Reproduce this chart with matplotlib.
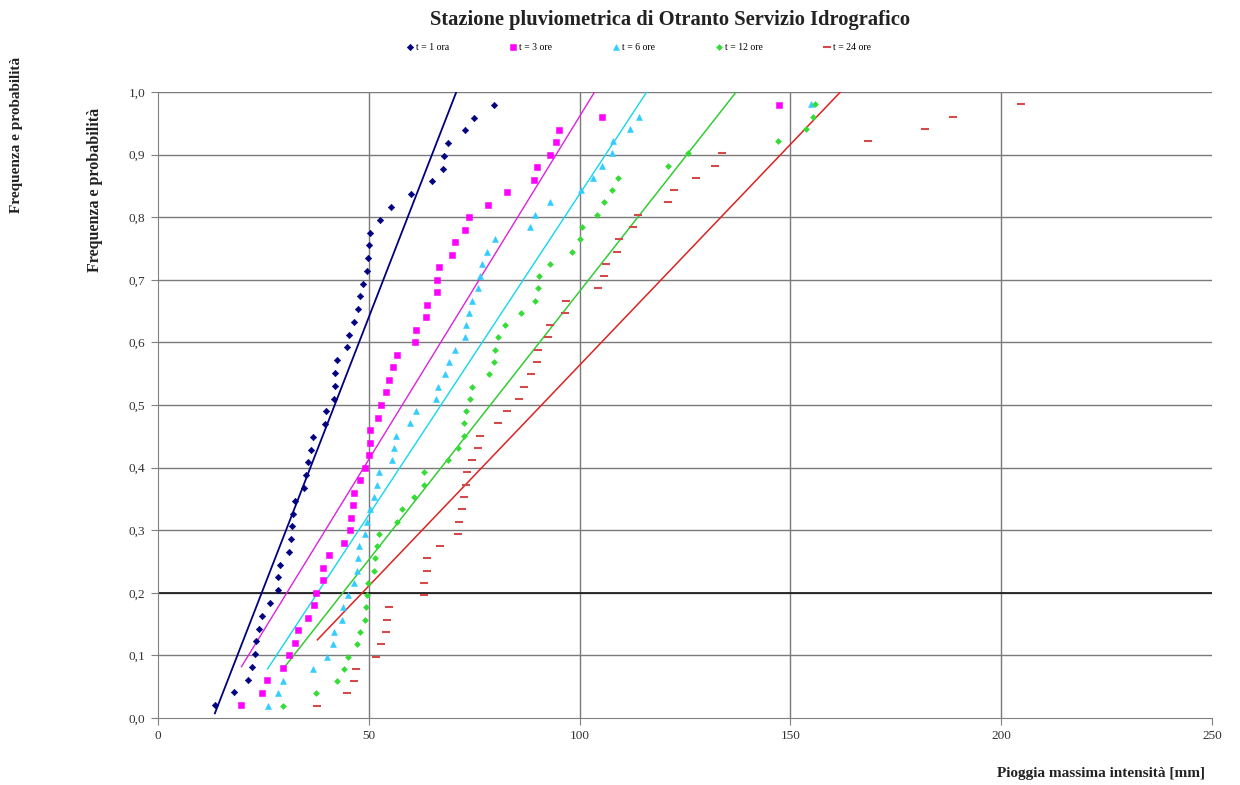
import numpy as np
import matplotlib
matplotlib.use("Agg")
import matplotlib.pyplot as plt
from matplotlib.ticker import MultipleLocator, FuncFormatter

plt.rcParams['font.family'] = ['Liberation Serif', 'DejaVu Serif']

# piogge massime annuali ordinate [mm], per durata
h_1ora = [13.5, 18.1, 21.4, 22.2, 22.9, 23.2, 24.0, 24.6, 26.5, 28.4, 28.5, 29.0,
          31.1, 31.5, 31.8, 32.1, 32.4, 34.6, 35.0, 35.6, 36.4, 36.8, 39.5, 39.8,
          41.8, 42.0, 42.1, 42.4, 44.8, 45.3, 46.5, 47.4, 48.0, 48.6, 49.6, 49.9,
          50.0, 50.2, 52.7, 55.3, 59.9, 64.9, 67.7, 67.8, 68.7, 72.8, 75.0, 79.8]
h_3ore = [19.8, 24.6, 25.8, 29.6, 31.1, 32.5, 33.3, 35.5, 37.1, 37.5, 39.1, 39.2,
          40.6, 44.1, 45.5, 45.9, 46.3, 46.6, 47.9, 49.1, 50.0, 50.3, 50.3, 52.3,
          53.0, 54.2, 54.9, 55.7, 56.6, 61.0, 61.1, 63.6, 63.9, 66.1, 66.3, 66.6,
          69.8, 70.4, 72.8, 73.8, 78.2, 82.8, 89.2, 90.0, 93.0, 94.3, 95.2, 105.4,
          147.3]
h_6ore = [26.0, 28.5, 29.6, 36.8, 40.0, 41.6, 41.8, 43.6, 44.0, 45.0, 46.6, 47.3,
          47.4, 47.7, 49.1, 49.5, 50.2, 51.2, 52.0, 52.4, 55.6, 56.1, 56.5, 59.8,
          61.2, 65.9, 66.5, 68.0, 69.1, 70.4, 72.8, 73.0, 73.8, 74.6, 75.8, 76.4,
          76.8, 78.0, 79.9, 88.2, 89.4, 93.1, 100.3, 103.1, 105.4, 107.8, 107.9,
          112.0, 114.1, 155.0]
h_12ore = [29.7, 37.6, 42.4, 44.2, 45.0, 47.1, 47.9, 49.1, 49.3, 49.5, 49.7, 51.3,
           51.5, 52.0, 52.4, 56.8, 57.8, 60.8, 63.1, 63.2, 68.9, 71.2, 72.6, 72.7,
           73.0, 73.9, 74.5, 78.6, 79.7, 79.9, 80.7, 82.3, 86.0, 89.4, 90.1, 90.4,
           93.1, 98.3, 100.1, 100.6, 104.2, 105.9, 107.8, 109.0, 121.0, 125.8,
           147.0, 153.7, 155.3, 155.8]
h_24ore = [37.8, 44.8, 46.5, 47.0, 51.7, 52.9, 54.0, 54.4, 54.9, 63.1, 63.2, 63.7,
           63.9, 66.9, 71.2, 71.4, 72.2, 72.5, 73.0, 73.2, 74.5, 75.8, 76.3, 80.6,
           82.9, 85.7, 86.9, 88.4, 90.0, 90.2, 92.4, 93.0, 96.5, 96.8, 104.4, 105.9,
           106.2, 108.8, 109.3, 112.6, 113.9, 121.0, 122.5, 127.5, 132.1, 133.7,
           168.5, 181.9, 188.6, 204.6]

durate = ['t = 1 ora', 't = 3 ore', 't = 6 ore', 't = 12 ore', 't = 24 ore']
serie = [h_1ora, h_3ore, h_6ore, h_12ore, h_24ore]

col_punti = ['#000080', '#ff00ff', '#33ccff', '#33dd33', '#d44a4a']
col_rette = ['#000080', '#dd22dd', '#11d8ee', '#33cc33', '#dd2222']
marker = ['D', 's', '^', 'D', '_']
msize = [3.3, 3.7, 4.4, 3.0, 5.2]
lw_rette = [1.3, 1.0, 1.0, 1.1, 1.1]

fig, ax = plt.subplots(figsize=(12.4, 7.85), dpi=100)
fig.subplots_adjust(left=0.1274, right=0.9774, bottom=0.0854, top=0.8828)

handles = []
for h, lab, cp, cr, m, ms, lw in zip(serie, durate, col_punti, col_rette, marker,
                                     msize, lw_rette):
    h = np.array(h)
    # frequenza empirica di non superamento (Weibull) i/(n+1)
    F = np.arange(1, len(h) + 1) / (len(h) + 1)
    p, = ax.plot(h, F, linestyle='none', marker=m, ms=ms, color=cp,
                 mec=cp, mew=1.5 if m == '_' else 0.4, label=lab, zorder=3)
    handles.append(p)
    # retta di tendenza lineare
    a, b = np.polyfit(h, F, 1)
    xx = np.array([h.min(), h.max()])
    ax.plot(xx, a * xx + b, color=cr, lw=lw, zorder=2)

ax.set_xlim(0, 250)
ax.set_ylim(0, 1.0)
ax.xaxis.set_major_locator(MultipleLocator(50))
ax.yaxis.set_major_locator(MultipleLocator(0.1))
ax.yaxis.set_major_formatter(FuncFormatter(lambda v, _: f"{v:.1f}".replace('.', ',')))

# griglia: niente linea verticale sul bordo destro
ax.grid(False)
for xv in [50, 100, 150, 200]:
    ax.axvline(xv, color='#7a7a7a', lw=1.0, zorder=0)
for yv in np.arange(1, 11) / 10:
    ax.axhline(yv, color='#7a7a7a', lw=1.0, zorder=0)
ax.axhline(0.2, color='#202020', lw=1.3, zorder=1)

for s in ['top', 'right']:
    ax.spines[s].set_visible(False)
for s in ['left', 'bottom']:
    ax.spines[s].set_color('#808080')
ax.tick_params(direction='out', length=5, color='#808080', labelsize=9.5,
               labelcolor='#333333', pad=4)

fig.text(0.540, 1 - 20 / 785, 'Stazione pluviometrica di Otranto Servizio Idrografico',
         ha='center', va='center', fontsize=14.8, weight='bold', color='#222222')
fig.legend(handles=handles, loc='center', bbox_to_anchor=(0.515, 1 - 48 / 785),
           ncol=5, frameon=False, fontsize=7, handlelength=0.8, handletextpad=0.2,
           columnspacing=6.2, markerscale=1.0)

fig.text(1205 / 1240, 1 - 773 / 785, 'Pioggia massima intensità [mm]',
         ha='right', va='center', fontsize=11, weight='bold', color='#222222')
fig.text(95 / 1240, 1 - 190 / 785, 'Frequenza e probabilità', rotation=90,
         ha='center', va='center', fontsize=11.5, weight='bold', color='#222222')
fig.text(17 / 1240, 1 - 135 / 785, 'Frequenza e probabilità', rotation=90,
         ha='center', va='center', fontsize=11, weight='bold', color='#222222')

fig.savefig('out.png', dpi=100)
